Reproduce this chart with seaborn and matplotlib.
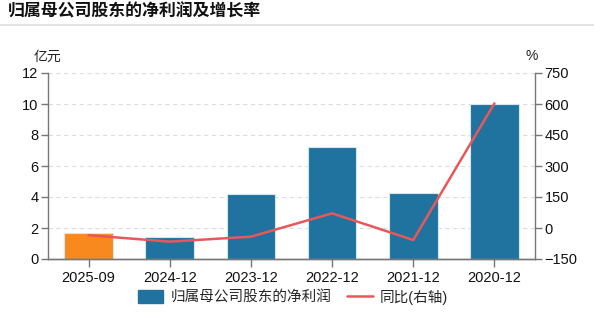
import matplotlib
matplotlib.use("Agg")
import matplotlib.pyplot as plt
import seaborn as sns
import pandas as pd
from matplotlib.lines import Line2D
from matplotlib.patches import Patch

categories = ["2025-09", "2024-12", "2023-12", "2022-12", "2021-12", "2020-12"]
profit = [1.66, 1.44, 4.19, 7.25, 4.28, 10.02]
growth = [-35, -66, -42, 71, -58, 603]
left_ticks = [0, 2, 4, 6, 8, 10, 12]
right_ticks = [-150, 0, 150, 300, 450, 600, 750]

sns.set_theme(style="white")
plt.rcParams['font.family'] = ['Liberation Sans', 'Noto Sans CJK SC', 'DejaVu Sans']

df = pd.DataFrame({"cat": categories, "profit": profit, "growth": growth})
bar_colors = ["#F7891E"] + ["#21739F"] * 5

fig = plt.figure(figsize=(5.94, 3.25), dpi=100)
ax = fig.add_axes([48/594, 1 - 259/325, (535-48)/594, (259-73)/325])

sns.barplot(data=df, x="cat", y="profit", hue="cat", palette=bar_colors, legend=False,
            width=0.6, ax=ax, edgecolor="#d4e6f1", linewidth=0.8, zorder=2, saturation=1)
ax.set_ylim(0, 12)
ax.set_yticks(left_ticks)
ax.set_xlabel("")
ax.set_ylabel("")
ax.grid(axis="y", color="#dddddd", linestyle=(0, (4, 3)), linewidth=0.8, zorder=0)
ax.set_axisbelow(True)

ax2 = ax.twinx()
sns.lineplot(x=list(range(len(categories))), y=growth, ax=ax2, color="#E8575A", linewidth=1.8, zorder=3)
ax2.set_ylim(-150, 750)
ax2.set_yticks(right_ticks)
ax.set_xlim(-0.5, len(categories) - 0.5)

for a in (ax, ax2):
    for s in a.spines.values():
        s.set_color("#777777")
        s.set_linewidth(1.0)
    a.spines["top"].set_visible(False)
    a.tick_params(axis="both", colors="#777777", labelcolor="#111111", labelsize=10.5,
                  length=5, width=1.0, direction="out", pad=2)
ax.tick_params(axis="x", length=6, pad=3)
ax2.spines["left"].set_visible(False)
ax.spines["right"].set_visible(False)
ax.tick_params(left=True, bottom=True)
ax2.tick_params(right=True)

fig.text(47/594, 1 - 57/325, "亿元", fontsize=10, ha="center", va="center", color="#222222")
fig.text(532/594, 1 - 56/325, "%", fontsize=10, ha="center", va="center", color="#222222")

fig.text(8/594, 1 - 11/325, "归属母公司股东的净利润及增长率", fontsize=12.2, fontweight="bold",
         ha="left", va="center", color="#111111")
fig.add_artist(Line2D([0, 1], [1 - 25/325, 1 - 25/325], color="#dddddd", linewidth=1.2))

handles = [Patch(facecolor="#21739F", edgecolor="#21739F", label="归属母公司股东的净利润"),
           Line2D([0], [0], color="#E8575A", linewidth=1.8, label="同比(右轴)")]
fig.legend(handles=handles, loc="center", bbox_to_anchor=(293/594, 1 - 297/325), ncol=2,
           frameon=False, fontsize=10.5, handlelength=1.75, handleheight=0.9, columnspacing=1.1,
           handletextpad=0.5)

fig.savefig("out.png", dpi=100)
